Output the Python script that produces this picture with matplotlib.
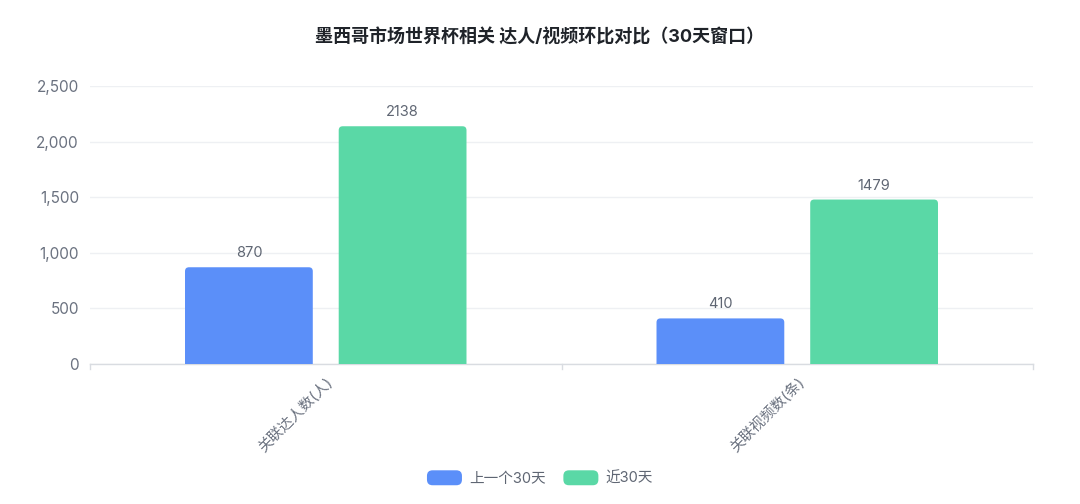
import matplotlib

matplotlib.use('Agg')
import matplotlib.pyplot as plt
import numpy as np
from matplotlib.patches import FancyBboxPatch, Patch
from matplotlib.legend_handler import HandlerPatch
from matplotlib.ticker import FuncFormatter, FixedLocator

plt.rcParams['font.family'] = ['Inter', 'Noto Sans CJK SC', 'DejaVu Sans']

title = '墨西哥市场世界杯相关 达人/视频环比对比（30天窗口）'
categories = ['关联达人数(人)', '关联视频数(条)']
series_names = ['上一个30天', '近30天']
prev_30 = [870, 410]
last_30 = [2138, 1479]
colors = ['#5B8FF9', '#5AD8A6']

fig = plt.figure(figsize=(10.8, 5.04), dpi=100)
ax = fig.add_axes([90 / 1080, 1 - 364 / 504, 943 / 1080, 278 / 504])

x = np.arange(len(categories))
width = 0.271
offset = 0.163
ax.set_xlim(-0.5, len(categories) - 0.5)
ax.set_ylim(0, 2500)

# pixel -> data scale for rounded corners
px_x = (len(categories)) / 943
px_y = 2500 / 278
r = 4 * px_x
aspect = px_y / px_x

for vals, col, sgn in [(prev_30, colors[0], -1), (last_30, colors[1], 1)]:
    bars = ax.bar(x + sgn * offset, vals, width=width, color=col)
    for rect, v in zip(bars, vals):
        bx, bw, bh = rect.get_x(), rect.get_width(), rect.get_height()
        rect.remove()
        ax.add_patch(FancyBboxPatch((bx, -r * aspect), bw, bh + r * aspect,
                                    boxstyle=f'round,pad=0,rounding_size={r}',
                                    mutation_aspect=aspect, fc=col, ec='none',
                                    zorder=3))
        ax.annotate(str(v), (bx + bw / 2, bh), xytext=(0, 5),
                    textcoords='offset points', ha='center', va='bottom',
                    fontsize=10.5, color='#5f6673')

ax.yaxis.set_major_locator(FixedLocator([0, 500, 1000, 1500, 2000, 2500]))
ax.yaxis.set_major_formatter(FuncFormatter(lambda v, p: f'{int(v):,}'))
ax.grid(axis='y', color='#eef0f3', linewidth=1, zorder=0)
ax.set_axisbelow(True)
ax.tick_params(axis='y', length=0, pad=8, labelsize=11, labelcolor='#6b7280')

ax.set_xticks(x)
ax.set_xticklabels(categories, rotation=45, ha='right', va='top',
                   rotation_mode='anchor', fontsize=10.5, color='#6b7280')
ax.tick_params(axis='x', length=0, pad=8)
for b in np.arange(-0.5, len(categories), 1.0):
    ax.plot([b, b], [0, -0.018], transform=ax.get_xaxis_transform(),
            color='#d9dce1', linewidth=1, clip_on=False)

for s in ['top', 'right', 'left']:
    ax.spines[s].set_visible(False)
ax.spines['bottom'].set_color('#d9dce1')
ax.spines['bottom'].set_linewidth(1)

fig.text(0.5, 1 - 37 / 504, title, ha='center', va='center',
         fontsize=13, fontweight='bold', color='#1f2329')


class RoundHandler(HandlerPatch):
    def create_artists(self, legend, orig_handle, xdescent, ydescent,
                       width, height, fontsize, trans):
        p = FancyBboxPatch((-xdescent, -ydescent), width, height,
                           boxstyle='round,pad=0,rounding_size=4',
                           fc=orig_handle.get_facecolor(), ec='none',
                           transform=trans)
        return [p]


handles = [Patch(color=c, label=n) for c, n in zip(colors, series_names)]
fig.legend(handles=handles, loc='center', bbox_to_anchor=(0.5, 1 - 478 / 504),
           ncol=2, frameon=False, fontsize=10.5, labelcolor='#5f6673',
           handler_map={Patch: RoundHandler()}, handlelength=2.4,
           handleheight=1.2, handletextpad=0.5, columnspacing=1.2)

fig.savefig('out.png', dpi=100, facecolor='white')
